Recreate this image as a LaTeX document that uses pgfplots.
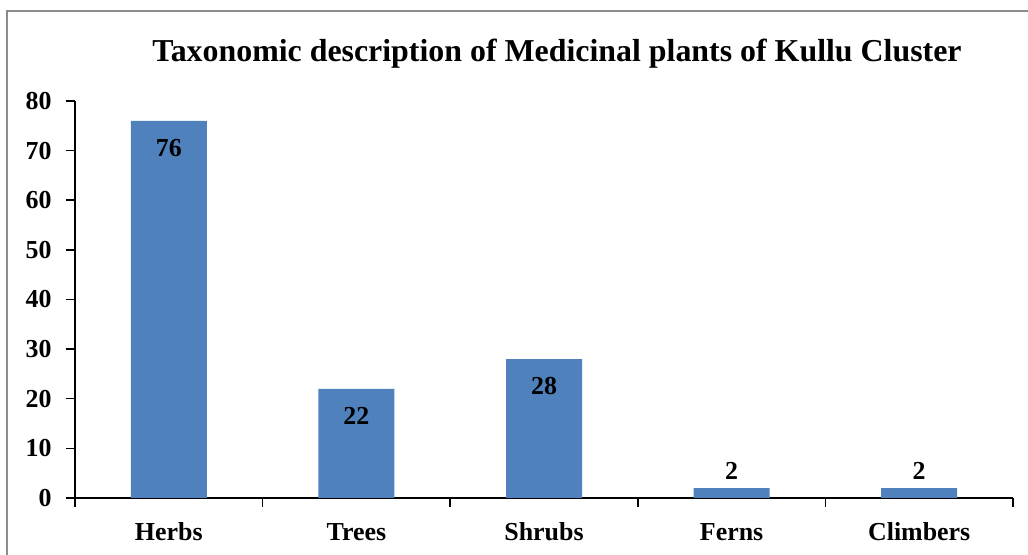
\documentclass[border=0pt]{standalone}
\usepackage{pgfplots}
\pgfplotsset{compat=1.18}
\usepackage{fontspec}
\setmainfont{Liberation Serif}
\definecolor{barblue}{HTML}{4F81BD}
\definecolor{framegray}{HTML}{8C8C8C}
\begin{document}
\begin{tikzpicture}[x=1bp,y=1bp]
\useasboundingbox (0,0) rectangle (1028,555);
\draw[framegray, line width=1.3bp] (7,-10) -- (7,544) -- (1040,544);
\node[anchor=base, inner sep=0pt, font=\fontsize{32}{38}\selectfont\bfseries] at (557,493) {Taxonomic description of Medicinal plants of Kullu Cluster};
\begin{axis}[
  at={(75bp,57bp)}, anchor=south west,
  scale only axis, width=938bp, height=397bp,
  xmin=-0.5, xmax=4.5, ymin=0, ymax=80,
  axis lines=left, axis line style={-, line width=1.8bp, black},
  xtick={-0.5,0.5,...,4.5}, x tick label as interval,
  xticklabels={Herbs,Trees,Shrubs,Ferns,Climbers},
  ytick={0,10,...,80},
  tick align=outside, major tick length=9bp,
  tick style={black, line width=1.5bp},
  ticklabel style={font=\fontsize{26}{30}\selectfont\bfseries},
  xticklabel style={text height=18bp, text depth=0pt, yshift=-12bp},
  yticklabel style={xshift=-11bp},
  /pgf/number format/assume math mode=true,
  clip=false,
]
\addplot[ybar, bar shift=0pt, bar width=76bp, fill=barblue, draw=none]
  coordinates {(0,76) (1,22) (2,28) (3,2) (4,2)};
\addplot[draw=none, mark=none, nodes near coords,
  every node near coord/.append style={anchor=north, yshift=-18bp, inner sep=0pt, font=\fontsize{26}{30}\selectfont\bfseries}]
  coordinates {(0,76) (1,22) (2,28)};
\addplot[draw=none, mark=none, nodes near coords,
  every node near coord/.append style={anchor=south, yshift=8bp, inner sep=0pt, font=\fontsize{26}{30}\selectfont\bfseries}]
  coordinates {(3,2) (4,2)};
\end{axis}
\end{tikzpicture}
\end{document}
